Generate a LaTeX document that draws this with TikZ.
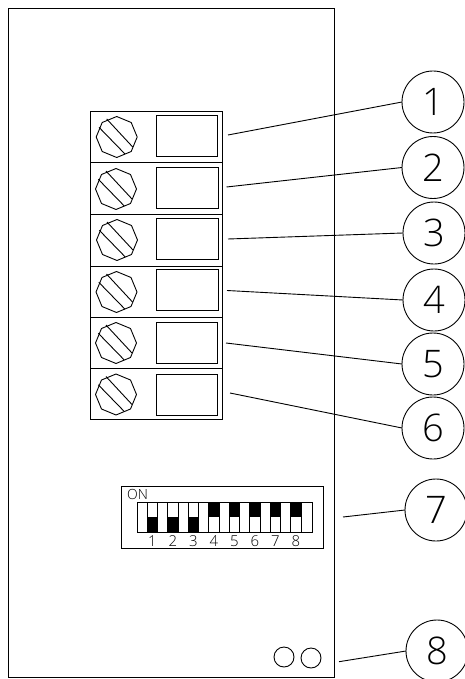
\documentclass[tikz,border=0pt]{standalone}
\usepackage{fontspec}
\newfontfamily\cadfont{Open Sans Light}
\usetikzlibrary{calc}
\tikzset{
  ln/.style={draw=black,line width=0.9pt},
  bubble/.style={ln,circle,minimum size=62pt,inner sep=0pt,outer sep=0pt,font=\cadfont\fontsize{38}{38}\selectfont},
  termbox/.style={ln,rectangle,anchor=north west,minimum width=61.5pt,minimum height=41pt,inner sep=0pt,outer sep=0pt},
  diplabel/.style={inner sep=0pt,font=\cadfont\fontsize{15}{15}\selectfont},
  leader/.style={ln}
}
\begin{document}
\begin{tikzpicture}[x=1pt,y=-1pt]
\useasboundingbox (0,0) rectangle (465,679);
\draw[ln] (8,8) rectangle (334,677);
% terminal block
\draw[ln] (90,111) rectangle (222.7,419);
\foreach \y in {162,214,266,317,368} \draw[ln] (90,\y) -- (222.7,\y);
\foreach \n/\bx/\by in {a/156/115,b/156.5/167,c/156.5/218.5,d/156.5/269.5,e/156/322,f/156/374}
  \node[termbox] (box\n) at (\bx,\by) {};
\foreach \cx/\cy in {116.7/137,116/189,117/240,116.5/292,116/343,116/394.5} {
  \begin{scope}[shift={(\cx,\cy)}]
    \draw[ln] (20.5,0) -- (14.5,-14.5) -- (0,-20.5) -- (-14.5,-14.5) -- (-20.5,0) -- (-14.5,14.5) -- (0,20.5) -- (14.5,14.5) -- cycle;
    \draw[ln] (-10,-18) -- (16,10);
    \draw[ln] (-17.7,-9.7) -- (8.3,17);
  \end{scope}
}
% DIP switch
\node[ln,rectangle,anchor=north west,minimum width=202pt,minimum height=62pt,inner sep=0pt] (dip) at (121,486) {};
\draw[ln] (137,502) rectangle (312,532);
\foreach \i/\lab in {0/1,1/2,2/3} {
  \pgfmathsetmacro{\xa}{147.3+20.5*\i}
  \draw[ln] (\xa,502) rectangle (\xa+10.4,532);
  \fill[black] (\xa,517) rectangle (\xa+10.4,532);
  \node[diplabel] (lab\lab) at (\xa+5.2,541) {\lab};
}
\foreach \i/\lab in {3/4,4/5,5/6,6/7,7/8} {
  \pgfmathsetmacro{\xa}{147.3+20.5*\i}
  \draw[ln] (\xa,502) rectangle (\xa+10.4,532);
  \fill[black] (\xa,502) rectangle (\xa+10.4,517);
  \node[diplabel] (lab\lab) at (\xa+5.2,541) {\lab};
}
\node[diplabel,font=\cadfont\fontsize{14}{14}\selectfont] (on) at (137.5,494.5) {ON};
% LEDs
\draw[ln] (284,657) circle (10);
\draw[ln] (311,658) circle (10);
% callouts
\node[bubble] (c1) at (433,102) {1};
\node[bubble] (c2) at (433,167.5) {2};
\node[bubble] (c3) at (434,233) {3};
\node[bubble] (c4) at (434,300) {4};
\node[bubble] (c5) at (433,364) {5};
\node[bubble] (c6) at (433,428) {6};
\node[bubble] (c7) at (436,510) {7};
\node[bubble] (c8) at (437,651) {8};
\coordinate (s1) at (228,135);
\coordinate (s2) at (226.5,187);
\coordinate (s3) at (228,239);
\coordinate (s4) at (227,290.5);
\coordinate (s5) at (226,343);
\coordinate (s6) at (230,393);
\coordinate (s7) at (343,517);
\coordinate (s8) at (339,661.7);
\foreach \i in {1,...,8} \draw[leader] (s\i) -- (c\i.west);
\end{tikzpicture}
\end{document}
